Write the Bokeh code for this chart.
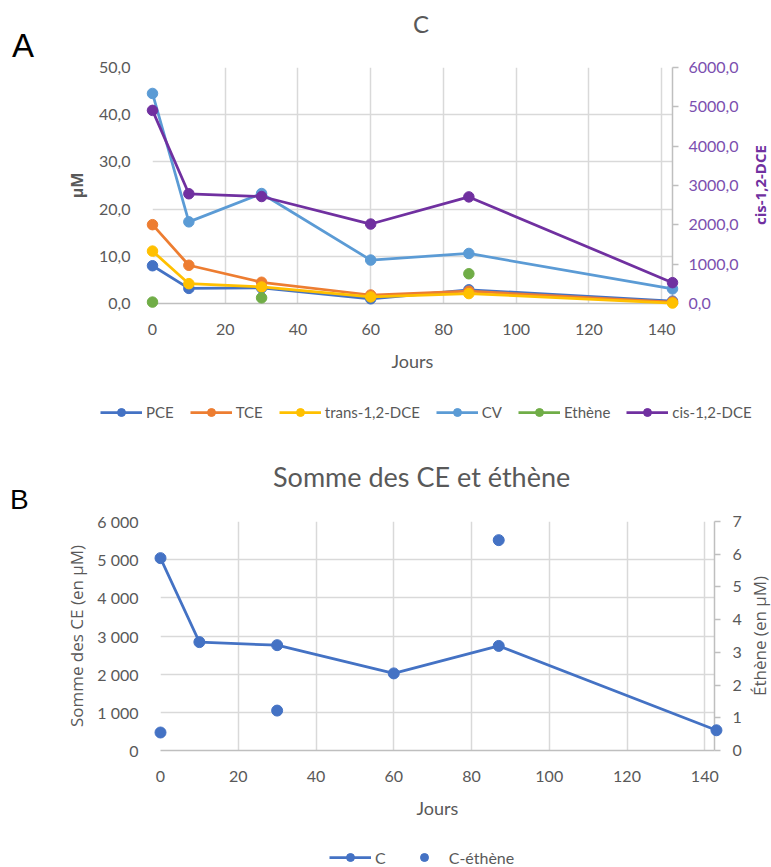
from bokeh.plotting import figure
from bokeh.models import (Range1d, LinearAxis, FixedTicker, Legend, LegendItem, Div)
from bokeh.layouts import column, row
from bokeh.embed import file_html
from bokeh.resources import INLINE

nan = float("nan")

# ---------------- data: panel A ----------------
days = [0, 10, 30, 60, 87, 143]
pce = [8.0, 3.2, 3.3, 1.0, 2.9, 0.5]
tce = [16.7, 8.1, 4.5, 1.8, 2.6, 0.3]
trans_dce = [11.1, 4.2, 3.5, 1.4, 2.1, 0.1]
cv = [44.5, 17.3, 23.3, 9.2, 10.6, 3.1]
ethene_a = [0.3, nan, 1.2, nan, 6.3, nan]
cis_dce = [4910, 2790, 2720, 2020, 2710, 530]

series_names = ["PCE", "TCE", "trans-1,2-DCE", "CV", "Ethène", "cis-1,2-DCE"]

# ---------------- data: panel B ----------------
sum_ce = [5040, 2840, 2760, 2020, 2740, 530]
ethene_b = [0.55, nan, 1.22, nan, 6.43, nan]
names_b = ["C", "C-éthène"]

# ---------------- ticks ----------------
x_ticks = [0, 20, 40, 60, 80, 100, 120, 140]
a_left_ticks = [0, 10, 20, 30, 40, 50]
a_left_labels = ["0,0", "10,0", "20,0", "30,0", "40,0", "50,0"]
a_right_ticks = [0, 1000, 2000, 3000, 4000, 5000, 6000]
a_right_labels = ["0,0", "1000,0", "2000,0", "3000,0", "4000,0", "5000,0", "6000,0"]
b_left_ticks = [0, 1000, 2000, 3000, 4000, 5000, 6000]
b_left_labels = ["0", "1 000", "2 000", "3 000", "4 000", "5 000", "6 000"]
b_right_ticks = [0, 1, 2, 3, 4, 5, 6, 7]
b_right_labels = ["0", "1", "2", "3", "4", "5", "6", "7"]

# ---------------- style ----------------
TXT = "#595959"
GRID = "#D9D9D9"
AXL = "#BFBFBF"
PURPLE = "#7030A0"
PURPLE_T = "#7B4FAF"
FONT = "Lato"
TFONT = "Open Sans"
colors_a = ["#4472C4", "#ED7D31", "#FFC000", "#5B9BD5", "#70AD47", "#7030A0"]
BLUE = "#4472C4"
RIGHT_W = 24
TOTAL_W = 771


def style_common(p):
    p.outline_line_color = None
    p.background_fill_color = "white"
    p.border_fill_color = "white"
    p.xgrid.ticker = FixedTicker(ticks=x_ticks)
    p.xgrid.grid_line_color = GRID
    p.xgrid.grid_line_width = 1.5
    p.ygrid.grid_line_color = GRID
    p.ygrid.grid_line_width = 1.5
    xa = p.xaxis[0]
    xa.ticker = FixedTicker(ticks=x_ticks)
    xa.major_tick_line_color = None
    xa.minor_tick_line_color = None
    xa.axis_line_color = AXL
    xa.axis_line_width = 1.5
    xa.major_label_text_font = FONT
    xa.major_label_text_font_size = "16px"
    xa.major_label_text_color = TXT
    xa.major_label_standoff = 14
    xa.axis_label = "Jours"
    xa.axis_label_text_font = FONT
    xa.axis_label_text_font_size = "18px"
    xa.axis_label_text_font_style = "normal"
    xa.axis_label_text_color = TXT
    xa.axis_label_standoff = 12
    ya = p.yaxis[0]
    ya.axis_line_color = None
    ya.major_tick_line_color = None
    ya.minor_tick_line_color = None
    ya.major_label_text_font = FONT
    ya.major_label_text_font_size = "16px"
    ya.major_label_text_color = TXT


def style_right(ax, color_ticks, standoff):
    ax.axis_line_color = AXL
    ax.axis_line_width = 1.5
    ax.major_tick_line_color = AXL
    ax.major_tick_line_width = 1.5
    ax.major_tick_in = 0
    ax.major_tick_out = 6
    ax.minor_tick_line_color = None
    ax.major_label_text_font = FONT
    ax.major_label_text_font_size = "16px"
    ax.major_label_text_color = color_ticks
    ax.major_label_standoff = standoff


def header(height, letter, l_size, l_lh, l_top, l_left, title, t_size, t_lh, t_top, t_left):
    html = ('<div style="position:relative;width:%dpx;height:%dpx;margin:0;padding:0">'
            '<span style="position:absolute;left:%dpx;top:%dpx;font-family:\'Liberation Sans\';'
            'font-size:%dpx;line-height:%dpx;color:black;white-space:nowrap">%s</span>'
            '<span style="position:absolute;left:%dpx;top:%dpx;font-family:\'Lato\';'
            'font-size:%dpx;line-height:%dpx;color:%s;white-space:nowrap">%s</span></div>'
            % (TOTAL_W, height, l_left, l_top, l_size, l_lh, letter,
               t_left, t_top, t_size, t_lh, TXT, title))
    return Div(text=html, width=TOTAL_W, height=height, margin=0)


def vtext(txt, size, weight, color, pad_top, span, pad_left, lh, height):
    html = ('<div style="padding-top:%dpx;padding-left:%dpx;margin:0">'
            '<div style="writing-mode:vertical-rl;transform:rotate(180deg);text-align:center;'
            'height:%dpx;width:%dpx;line-height:%dpx;white-space:nowrap;'
            'font-family:\'Open Sans\';font-size:%dpx;font-weight:%s;color:%s">%s</div></div>'
            % (pad_top, pad_left, span, lh, lh, size, weight, color, txt))
    return Div(text=html, width=RIGHT_W, height=height, margin=0)


def legend_fig(height):
    f = figure(width=TOTAL_W, height=height, output_backend="svg", toolbar_location=None,
               x_range=Range1d(0, 1), y_range=Range1d(0, 1),
               x_axis_location=None, y_axis_location=None,
               min_border_left=0, min_border_right=0, min_border_top=0, min_border_bottom=0)
    f.grid.visible = False
    f.outline_line_color = None
    f.background_fill_color = "white"
    f.border_fill_color = "white"
    return f


# ======================= Panel A =======================
HA_H = 57          # header strip (letter + title)
A_H = 385 - HA_H   # plot
LA_H = 440 - 385   # legend strip
hA = header(HA_H, "A", 33, 38, 27, 12, "C", 24, 29, 9, 413)

pA = figure(width=TOTAL_W - RIGHT_W, height=A_H, output_backend="svg",
            toolbar_location=None, x_range=Range1d(0, 143), y_range=Range1d(0, 50),
            min_border_left=152, min_border_right=75, min_border_top=67 - HA_H,
            min_border_bottom=385 - 303)
pA.extra_y_ranges = {"cis": Range1d(0, 6000)}
style_common(pA)
pA.ygrid.ticker = FixedTicker(ticks=a_left_ticks)
ya = pA.yaxis[0]
ya.ticker = FixedTicker(ticks=a_left_ticks)
ya.major_label_overrides = dict(zip(a_left_ticks, a_left_labels))
ya.major_label_standoff = 16
ya.axis_label = "µM"
ya.axis_label_text_font = TFONT
ya.axis_label_text_font_size = "16px"
ya.axis_label_text_font_style = "bold"
ya.axis_label_text_color = TXT
ya.axis_label_standoff = 8

ra = LinearAxis(y_range_name="cis", ticker=FixedTicker(ticks=a_right_ticks))
ra.major_label_overrides = dict(zip(a_right_ticks, a_right_labels))
style_right(ra, PURPLE_T, 10)
pA.add_layout(ra, "right")

data_a = [pce, tce, trans_dce, cv, ethene_a, cis_dce]
for name, vals, col in zip(series_names, data_a, colors_a):
    kw = {}
    if name == "cis-1,2-DCE":
        kw = dict(y_range_name="cis")
    pA.line(days, vals, line_color=col, line_width=2.75, level="overlay", **kw)
    pA.scatter(days, vals, marker="circle", size=10.5, fill_color=col, line_color=col,
               level="overlay", **kw)

divRA = vtext("cis-1,2-DCE", 15, "bold", PURPLE, 67 - HA_H, 236, 3, 20, A_H)

# legend strip for panel A (proxy renderers carry the series styles)
lfA = legend_fig(LA_H)
items_a = []
for name, col in zip(series_names, colors_a):
    lr = lfA.line([nan], [nan], line_color=col, line_width=2.75)
    sr = lfA.scatter([nan], [nan], marker="circle", size=10.5, fill_color=col, line_color=col)
    items_a.append(LegendItem(label=name, renderers=[lr, sr]))
legA = Legend(items=items_a, orientation="horizontal", location=(100, 18),
              glyph_width=42, glyph_height=20, label_standoff=4, spacing=16, label_width=0,
              padding=0, margin=0, border_line_color=None, background_fill_alpha=0,
              label_text_font=FONT, label_text_font_size="15px", label_text_color=TXT)
lfA.add_layout(legA)

# ======================= Panel B =======================
HB_H = 70
B_H = 827 - 440 - HB_H
LB_H = 867 - 827
hB = header(HB_H, "B", 28, 32, 44, 10, "Somme des CE et éthène", 27, 32, 21, 273)

pB = figure(width=TOTAL_W - RIGHT_W, height=B_H, output_backend="svg",
            toolbar_location=None, x_range=Range1d(0, 142.5), y_range=Range1d(0, 6000),
            min_border_left=160, min_border_right=33, min_border_top=11,
            min_border_bottom=827 - 750)
pB.extra_y_ranges = {"eth": Range1d(0, 7)}
style_common(pB)
pB.ygrid.ticker = FixedTicker(ticks=b_left_ticks)
yb = pB.yaxis[0]
yb.ticker = FixedTicker(ticks=b_left_ticks)
yb.major_label_overrides = dict(zip(b_left_ticks, b_left_labels))
yb.major_label_standoff = 16
yb.axis_label = "Somme des CE (en µM)"
yb.axis_label_text_font = TFONT
yb.axis_label_text_font_size = "17px"
yb.axis_label_text_font_style = "normal"
yb.axis_label_text_color = TXT
yb.axis_label_standoff = 6

rb = LinearAxis(y_range_name="eth", ticker=FixedTicker(ticks=b_right_ticks))
rb.major_label_overrides = dict(zip(b_right_ticks, b_right_labels))
style_right(rb, TXT, 12)
pB.add_layout(rb, "right")

pB.line(days, sum_ce, line_color=BLUE, line_width=2.75, level="overlay")
pB.scatter(days, sum_ce, marker="circle", size=11, fill_color=BLUE, line_color=BLUE, level="overlay")
pB.scatter(days, ethene_b, marker="circle", size=11, fill_color=BLUE, line_color=BLUE,
           y_range_name="eth", level="overlay")

divRB = vtext("Éthène (en µM)", 17, "normal", TXT, 11, 229, 2, 21, B_H)

lfB = legend_fig(LB_H)
lb = lfB.line([nan], [nan], line_color=BLUE, line_width=2.75)
sb = lfB.scatter([nan], [nan], marker="circle", size=11, fill_color=BLUE, line_color=BLUE)
se = lfB.scatter([nan], [nan], marker="circle", size=11, fill_color=BLUE, line_color=BLUE)
legB = Legend(items=[LegendItem(label=names_b[0], renderers=[lb, sb]),
                     LegendItem(label=names_b[1], renderers=[se])],
              orientation="horizontal", location=(329, 0),
              glyph_width=42, glyph_height=20, label_standoff=4, spacing=17, label_width=0,
              padding=0, margin=0, border_line_color=None, background_fill_alpha=0,
              label_text_font=FONT, label_text_font_size="16px", label_text_color=TXT)
lfB.add_layout(legB)

layout = column(hA, row(pA, divRA, spacing=0), lfA,
                hB, row(pB, divRB, spacing=0), lfB, spacing=0)
open("out.html", "w").write(file_html(layout, INLINE))
